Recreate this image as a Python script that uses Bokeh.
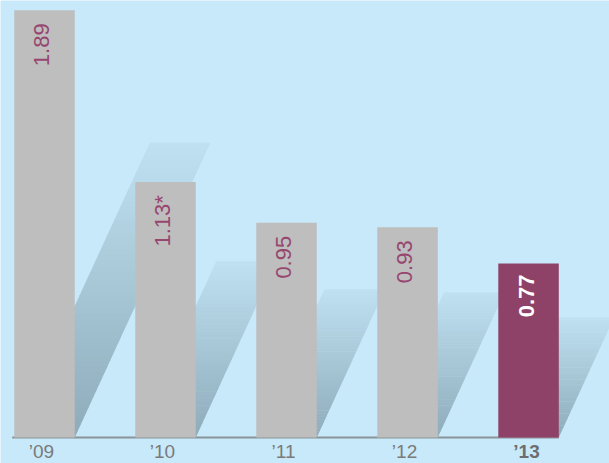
import numpy as np
from bokeh.plotting import figure
from bokeh.models import Range1d, ColumnDataSource
from bokeh.core.properties import value
from bokeh.embed import file_html
from bokeh.resources import INLINE

# ---- data ----
years = ["\u201909", "\u201910", "\u201911", "\u201912", "\u201913"]
values = [1.89, 1.13, 0.95, 0.93, 0.77]
value_labels = ["1.89", "1.13*", "0.95", "0.93", "0.77"]

# ---- style ----
BG = "#c7e9f9"
GRAY = "#bebebe"
MAROON = "#8f4268"
LABEL = "#97466f"
TICK = "#7a7a7a"

W, H = 609, 463
xr = Range1d(-0.3636, 4.669)
yr = Range1d(-0.115, 1.9336)
pxx = W / (xr.end - xr.start)
pxy = H / (yr.end - yr.start)

p = figure(width=W, height=H, x_range=xr, y_range=yr, output_backend="svg",
           toolbar_location=None, min_border=0)
p.axis.visible = False
p.grid.visible = False
p.outline_line_color = None
p.background_fill_color = BG
p.border_fill_color = BG

xs = np.arange(len(values), dtype=float)
bw = 0.5

# ---- slanted gradient shadows ----
def mix(c1, c2, t):
    a = [int(c1[i:i + 2], 16) for i in (1, 3, 5)]
    b = [int(c2[i:i + 2], 16) for i in (1, 3, 5)]
    return "#%02x%02x%02x" % tuple(int(round(a[k] + (b[k] - a[k]) * t)) for k in range(3))

DARK = "#8eabb9"
LIGHT = "#bfe1f2"
slant = 0.46 * pxy / pxx      # data-x per data-y
ratio = 0.69
N = 50
sx, sy, sc = [], [], []
for x, v in zip(xs, values):
    hs = v * ratio
    xl, xrr = x - bw / 2, x + bw / 2
    for k in range(N):
        h0 = hs * k / N
        h1 = min(hs * (k + 1.15) / N, hs)
        sx.append([xl + slant * h0, xrr + slant * h0, xrr + slant * h1, xl + slant * h1])
        sy.append([h0, h0, h1, h1])
        sc.append(mix(DARK, LIGHT, (k + 0.5) / N))
p.patches(sx, sy, fill_color=sc, line_color=None)

# ---- baseline ----
p.line([xs[0] - bw / 2 - 2 / pxx, xs[-1] + bw / 2], [0, 0], line_color="#8a9599", line_width=2)

# ---- bars ----
colors = [GRAY] * (len(values) - 1) + [MAROON]
src = ColumnDataSource(dict(x=xs, top=values, color=colors))
p.vbar(x="x", top="top", bottom=0, width=bw, fill_color="color", line_color=None, source=src)

# ---- value labels (rotated, inside top of bar) ----
off = 13 / pxy
lab = ColumnDataSource(dict(x=xs[:-1] - 3 / pxx, y=[v - off for v in values[:-1]],
                            t=value_labels[:-1]))
p.text(x="x", y="y", text="t", source=lab, angle=np.pi / 2, text_align="right",
       text_baseline="middle", text_color=LABEL, text_font=value("Liberation Sans"),
       text_font_size="22px")
p.text(x=[xs[-1] - 2 / pxx], y=[values[-1] - 11 / pxy], text=[value_labels[-1]],
       angle=np.pi / 2, text_align="right", text_baseline="middle", text_color="white",
       text_font=value("Liberation Sans"), text_font_size="22px", text_font_style="bold")

# ---- category labels ----
ty = -14 / pxy
p.text(x=xs[:-1] - 3 / pxx, y=[ty] * (len(years) - 1), text=years[:-1], text_align="center",
       text_baseline="middle", text_color=TICK, text_font=value("Liberation Sans"),
       text_font_size="19px")
p.text(x=[xs[-1] - 2 / pxx], y=[ty], text=[years[-1]], text_align="center",
       text_baseline="middle", text_color="#6e6e6e", text_font=value("Liberation Sans"),
       text_font_size="19px", text_font_style="bold")

open("out.html", "w").write(file_html(p, INLINE))
